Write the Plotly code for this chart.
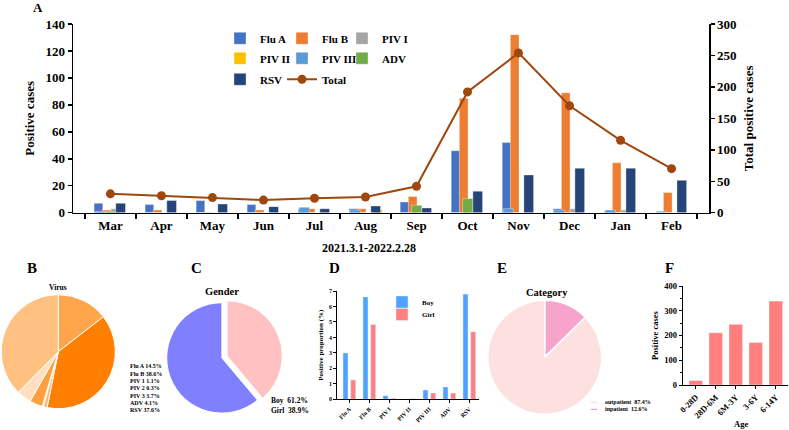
import plotly.graph_objects as go

W, H = 789, 430
def fx(p): return p / W
def fy(p): return 1 - p / H

FONT = "Liberation Serif, Times New Roman, DejaVu Serif, serif"

# ---------------- Panel A data ----------------
months = ["Mar", "Apr", "May", "Jun", "Jul", "Aug", "Sep", "Oct", "Nov", "Dec", "Jan", "Feb"]
flu_a = [7, 6, 9, 6, 3, 3, 8, 46, 52, 3, 1, 0]
flu_b = [2, 2, 0.5, 2, 3, 3, 12, 85, 132, 89, 37, 15]
piv_1 = [3, 0, 0, 0, 0, 0, 0, 0, 0, 3, 2, 0]
piv_2 = [0, 0, 0, 0, 0, 2, 0, 0, 0, 0, 0, 0]
piv_3 = [1, 0, 0, 0, 4, 2, 0, 0, 3, 2, 2, 1]
adv = [1, 0, 0, 0, 0, 0, 5.5, 10.5, 0, 0, 0, 0]
rsv = [7, 9, 6.5, 4.5, 3, 5, 3.5, 16, 28, 33, 33, 24]
total = [30, 27, 24, 20, 23, 25, 42, 192, 254, 170, 115, 70]

# ---------------- Panel B data ----------------
virus_labels = ["Flu A", "Flu B", "PIV 1", "PIV 2", "PIV 3", "ADV", "RSV"]
virus_pct = [14.5, 38.6, 1.1, 0.3, 3.7, 4.1, 37.6]

# ---------------- Panel C data ----------------
gender_labels = ["Boy", "Girl"]
gender_pct = [61.2, 38.9]

# ---------------- Panel D data ----------------
d_cats = ["Flu A", "Flu B", "PIV I", "PIV II", "PIV III", "ADV", "RSV"]
d_boy = [3.0, 6.62, 0.23, 0, 0.6, 0.8, 6.8]
d_girl = [1.25, 4.84, 0.06, 0.04, 0.4, 0.4, 4.36]

# ---------------- Panel E data ----------------
cat_labels = ["outpatient", "inpatient"]
cat_pct = [87.4, 12.6]

# ---------------- Panel F data ----------------
age_groups = ["0-28D", "28D-6M", "6M-3Y", "3-6Y", "6-14Y"]
age_cases = [18, 211, 245, 172, 339]

fig = go.Figure()

# Panel A bars (Excel-like overlapping clusters)
series_a = [
    ("Flu A", flu_a, "#4472C4", -0.32, 0.17, "legend"),
    ("Flu B", flu_b, "#ED7D31", -0.16, 0.17, "legend2"),
    ("PIV I", piv_1, "#A5A5A5", 0.01, 0.17, "legend3"),
    ("PIV II", piv_2, "#FFC000", 0.165, 0.17, "legend4"),
    ("PIV III", piv_3, "#5B9BD5", -0.30, 0.20, "legend5"),
    ("ADV", adv, "#70AD47", -0.095, 0.20, "legend6"),
    ("RSV", rsv, "#264478", 0.105, 0.19, "legend7"),
]
for name, vals, col, off, wid, lg in series_a:
    fig.add_trace(go.Bar(
        x=months, y=vals, name=name,
        marker=dict(color=col, line=dict(color="rgba(255,255,255,0.45)", width=0.8)),
        offset=off, width=wid, xaxis="x", yaxis="y", legend=lg, hoverinfo="skip"))

fig.add_trace(go.Scatter(
    x=months, y=total, name="Total", mode="lines+markers",
    line=dict(color="#9E480E", width=2), marker=dict(color="#9E480E", size=9),
    xaxis="x", yaxis="y2", legend="legend8", hoverinfo="skip"))

# Panel B pie
fig.add_trace(go.Pie(
    labels=virus_labels, values=virus_pct, sort=False, direction="clockwise", rotation=0,
    textinfo="none", hoverinfo="skip", showlegend=False,
    marker=dict(colors=["#FFA64D", "#FF8000", "#FFB870", "#FFD1A3", "#FFA040", "#FFDFC0", "#FFC080"],
                line=dict(color="white", width=1)),
    domain=dict(x=[fx(1.3), fx(115.3)], y=[fy(408.7), fy(294.7)])))

# Panel C pie (drawn clockwise from 12 o'clock: Girl then Boy)
fig.add_trace(go.Pie(
    labels=gender_labels[::-1], values=gender_pct[::-1], sort=False, direction="clockwise", rotation=0,
    textinfo="none", hoverinfo="skip", showlegend=False, pull=[0.1, 0],
    marker=dict(colors=["#FFC1C1", "#8080FF"], line=dict(color="white", width=1)),
    domain=dict(x=[fx(161.2), fx(282.6)], y=[fy(418.6), fy(297.2)])))

# Panel D bars
fig.add_trace(go.Bar(x=d_cats, y=d_boy, name="Boy", marker=dict(color="#4DA3FF"),
                     offset=-0.315, width=0.25, xaxis="x3", yaxis="y3", legend="legend9", hoverinfo="skip"))
fig.add_trace(go.Bar(x=d_cats, y=d_girl, name="Girl", marker=dict(color="#FF8080"),
                     offset=0.07, width=0.25, xaxis="x3", yaxis="y3", legend="legend10", hoverinfo="skip"))

# Panel E pie (clockwise from 12 o'clock: inpatient then outpatient)
fig.add_trace(go.Pie(
    labels=cat_labels[::-1], values=cat_pct[::-1], sort=False, direction="clockwise", rotation=0,
    textinfo="none", hoverinfo="skip", showlegend=False,
    marker=dict(colors=["#F7A3CB", "#FDE1E1"], line=dict(color="white", width=1.5)),
    domain=dict(x=[fx(487.7), fx(601.7)], y=[fy(414.3), fy(300.3)])))

# Panel F bars
fig.add_trace(go.Bar(x=age_groups, y=age_cases,
                     marker=dict(color="#FF7F7F", line=dict(color="rgba(255,255,255,0.5)", width=0.8)),
                     width=0.68, xaxis="x4", yaxis="y4", showlegend=False, hoverinfo="skip"))

axis_common = dict(showline=True, linecolor="black", showgrid=False, zeroline=False,
                   ticks="outside", tickcolor="black", automargin=False)

def leg(x_text, y, size=11):
    return dict(orientation="v", xanchor="left", yanchor="middle", bgcolor="rgba(0,0,0,0)",
                x=fx(x_text - 40), y=fy(y), font=dict(size=size, family=FONT, weight="bold"),
                itemclick=False, itemdoubleclick=False, borderwidth=0)

annotations = []
def ann(text, x, y, size, xanchor="center", color="black", yanchor="middle"):
    annotations.append(dict(text=text, x=fx(x), y=fy(y), xref="paper", yref="paper", showarrow=False,
                            xanchor=xanchor, yanchor=yanchor,
                            font=dict(size=size, family=FONT, weight="bold", color=color)))

# Panel letters
ann("A", 38, 7, 13)
ann("B", 32, 268, 15)
ann("C", 196, 268, 15)
ann("D", 334, 268, 15)
ann("E", 502, 268, 15)
ann("F", 669, 268, 15)

# A x-title
ann("2021.3.1-2022.2.28", 368.5, 248, 12)

# pie titles
ann("Virus", 58.3, 287.5, 7.5)
ann("Gender", 221.7, 291, 10.5)
ann("Category", 546.7, 292.7, 10.5)

# B legend text
b_y = [366, 373.7, 381, 388.3, 395.7, 403, 410.3]
for lab, pct, yy in zip(virus_labels, virus_pct, b_y):
    ann(f"{lab} {pct}%", 127.7, yy, 6, xanchor="left")

# C legend text
for lab, pct, yy in zip(gender_labels, gender_pct, [400, 410.7]):
    ann(f"{lab}  {pct}%", 269.3, yy, 7.5, xanchor="left")

# E legend
for lab, pct, yy, col in zip(cat_labels, cat_pct, [402.3, 409.3], ["#FDD5D8", "#F27DB5"]):
    ann("━━", 588, yy, 5, xanchor="left", color=col)
    ann(f"{lab}  {pct}%", 603, yy, 6, xanchor="left")

# F x title
ann("Age", 741, 424, 8.5)

fig.update_layout(
    width=W, height=H, margin=dict(l=0, r=0, t=0, b=0, autoexpand=False),
    paper_bgcolor="white", plot_bgcolor="white",
    font=dict(family=FONT, weight="bold", color="black"),
    barmode="overlay", hovermode=False,
    xaxis=dict(**axis_common, domain=[fx(73), fx(709)], anchor="y", type="category",
               tickson="boundaries", ticklen=5, linewidth=1.5, tickwidth=1.5,
               tickfont=dict(size=13)),
    yaxis=dict(**axis_common, domain=[fy(212.7), fy(24)], anchor="x", range=[0, 140], dtick=20,
               ticklen=4, linewidth=1.5, tickwidth=1.5, tickfont=dict(size=13),
               title=dict(text="Positive cases", font=dict(size=13), standoff=8)),
    yaxis2=dict(**axis_common, overlaying="y", side="right", anchor="x", range=[0, 300], dtick=50,
                ticklen=4, linewidth=1.5, tickwidth=1.5, tickfont=dict(size=13),
                title=dict(text="Total positive cases", font=dict(size=13), standoff=8)),
    xaxis3=dict(**axis_common, domain=[fx(337.3), fx(479.3)], anchor="y3", type="category",
                range=[-0.6, 6.5], ticklen=3, tickangle=-45, tickfont=dict(size=6)),
    yaxis3=dict(**axis_common, domain=[fy(399.3), fy(291)], anchor="x3", range=[0, 7], dtick=1,
                ticklen=3, tickfont=dict(size=6),
                title=dict(text="Positive proportion (%)", font=dict(size=7), standoff=4)),
    xaxis4=dict(**axis_common, domain=[fx(682.8), fx(787.8)], anchor="y4", type="category",
                range=[-0.65, 4.6], ticklen=3, tickangle=-45, tickfont=dict(size=8.5)),
    yaxis4=dict(**axis_common, domain=[fy(385), fy(286)], anchor="x4", range=[0, 400], dtick=100,
                ticklen=3, tickfont=dict(size=8.5),
                minor=dict(dtick=50, ticks="outside", ticklen=2, tickcolor="black"),
                title=dict(text="Positive cases", font=dict(size=8.5), standoff=4)),
    legend=leg(260, 38.3), legend2=leg(322, 38.3), legend3=leg(382, 38.3),
    legend4=leg(260, 58.3), legend5=leg(322, 58.3), legend6=leg(382, 58.3),
    legend7=leg(260, 79.3), legend8=leg(322, 79.3),
    legend9=leg(422, 302, 7), legend10=leg(422, 314.5, 7),
    annotations=annotations,
)

fig.write_html("out.html", config={"displayModeBar": False, "staticPlot": True},
               post_script="document.body.style.margin='0';document.body.style.padding='0';")
